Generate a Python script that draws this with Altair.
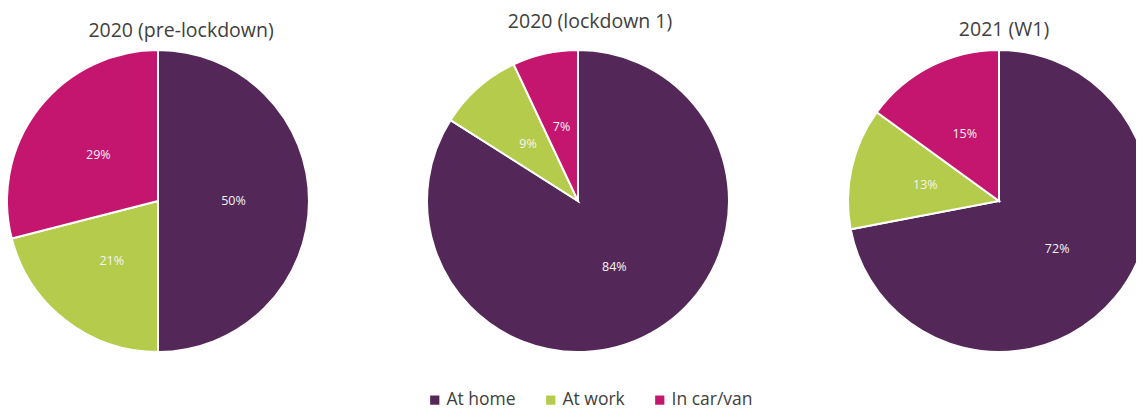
import altair as alt
import pandas as pd

panels = ["2020 (pre-lockdown)", "2020 (lockdown 1)", "2021 (W1)"]
categories = ["At home", "At work", "In car/van"]
at_home = [50, 84, 72]
at_work = [21, 9, 13]
in_car = [29, 7, 15]
colors = ["#532757", "#B5CB4B", "#C4166F"]

rows = []
for i, p in enumerate(panels):
    for j, (c, v) in enumerate(zip(categories, [at_home[i], at_work[i], in_car[i]])):
        rows.append({"panel": p, "category": c, "value": v, "order": j, "label": f"{v}%"})
df = pd.DataFrame(rows)

# layout (plot-area pixel coordinates)
centers = [(150, 193), (570, 193), (991, 193)]
title_pos = [(173, 28.5), (582, 19.5), (996, 28)]
R = 151

color_scale = alt.Scale(domain=categories, range=colors)

layers = []
for i, p in enumerate(panels):
    cx, cy = centers[i]
    base = alt.Chart(df).transform_filter(alt.datum.panel == p)
    show_legend = i == 0
    arc = base.mark_arc(radius=R, stroke="white", strokeWidth=2).encode(
        theta=alt.Theta("value:Q", stack=True),
        color=alt.Color(
            "category:N",
            scale=color_scale,
            sort=categories,
            legend=alt.Legend(
                title=None,
                orient="none",
                direction="horizontal",
                legendX=418,
                legendY=383,
                symbolType="square",
                symbolSize=85,
                symbolStrokeWidth=0,
                labelFontSize=17.5,
                labelFont="Open Sans",
                labelColor="#404040",
                columnPadding=26,
                labelOffset=3,
            ) if show_legend else None,
        ),
        order=alt.Order("order:Q"),
        x=alt.value(cx),
        y=alt.value(cy),
    )
    txt = base.mark_text(radius=R / 2, fontSize=12.5, font="Open Sans", color="#f4f4f4").encode(
        theta=alt.Theta("value:Q", stack=True),
        order=alt.Order("order:Q"),
        text="label:N",
        x=alt.value(cx),
        y=alt.value(cy),
    )
    tx, ty = title_pos[i]
    title = alt.Chart(pd.DataFrame({"t": [p]})).mark_text(
        fontSize=19.5, font="Open Sans", color="#404040", baseline="alphabetic", align="center"
    ).encode(text="t:N", x=alt.value(tx), y=alt.value(ty))
    layers += [arc, txt, title]

chart = alt.layer(*layers).resolve_scale(theta="independent").properties(
    width=1128, height=403, padding=0, autosize=alt.AutoSizeParams(type="none")
).configure_view(stroke=None)

chart.save("out.html", embed_options={"renderer": "svg", "actions": False})
